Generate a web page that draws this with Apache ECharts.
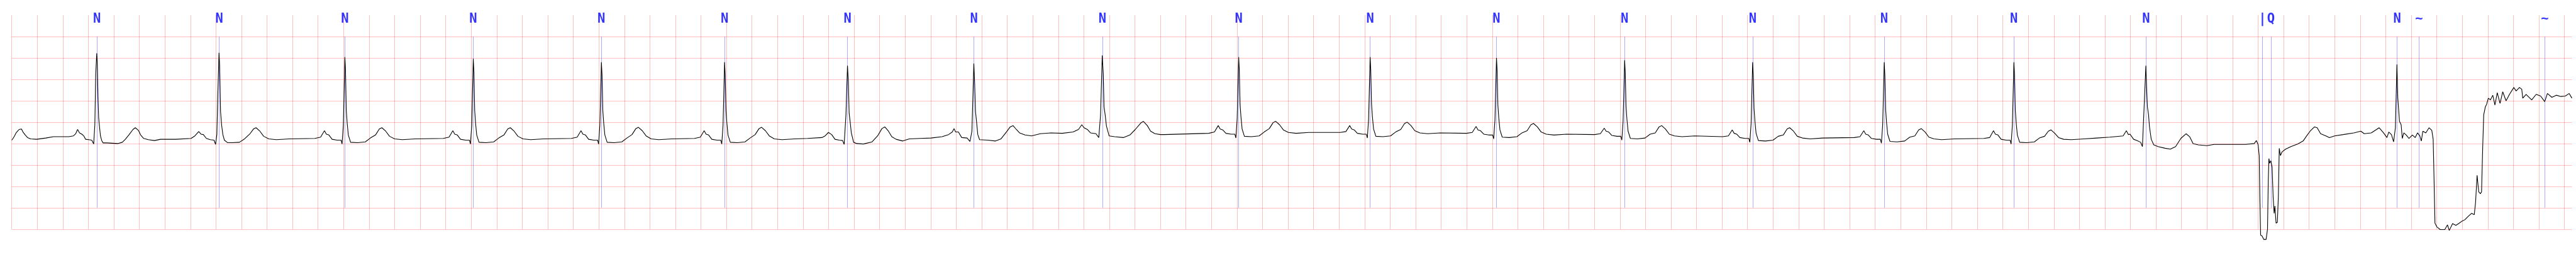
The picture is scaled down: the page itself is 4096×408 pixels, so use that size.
<!DOCTYPE html>
<html><head><meta charset="utf-8">
<script src="https://cdn.jsdelivr.net/npm/echarts@6/dist/echarts.min.js"></script>
<style>html,body{margin:0;padding:0;background:#fff;overflow:hidden}#c{width:4096px;height:408px}</style>
</head><body><div id="c"></div>
<script>
// Annotation times (s) and symbols
const annTimes = [0.668,1.626,2.610,3.616,4.620,5.585,6.549,7.539,8.545,9.613,10.643,11.633,12.637,13.640,14.671,15.687,16.723,17.634,17.701,18.690,18.861,19.847];
const annSymbols = ['N','N','N','N','N','N','N','N','N','N','N','N','N','N','N','N','N','|','Q','N','~','~'];
// grid specification
const majorX = 0.2, majorY = 0.5;
const xEnd = 20.06;
const gridYLow = -2.0, gridYHigh = 2.5, vLineTop = 3.0, annLow = -1.5, annHigh = 2.5, labelY = 2.909;

// ECG (time s, mV)
const ecgSegA = [[0.000,0.08],[0.010,0.12],[0.022,0.18],[0.034,0.25],[0.046,0.29],[0.058,0.33],[0.076,0.34],[0.088,0.27],[0.106,0.20],[0.124,0.14],[0.148,0.11],[0.195,0.10],[0.267,0.13],[0.327,0.16],[0.387,0.16],[0.447,0.16],[0.483,0.18],[0.501,0.23],[0.516,0.33],[0.531,0.25],[0.549,0.22],[0.564,0.18],[0.579,0.10],[0.603,0.09],[0.627,0.08],[0.642,-0.01],[0.651,0.44],[0.658,1.63],[0.666,2.11],[0.670,1.90],[0.676,1.06],[0.681,0.60],[0.687,0.41],[0.695,0.18],[0.705,0.07],[0.716,0.015],[0.746,0.015],[0.830,0.0],[0.866,0.03],[0.890,0.10],[0.920,0.21],[0.950,0.33],[0.968,0.37],[0.992,0.31],[1.010,0.20],[1.034,0.12],[1.070,0.09],[1.118,0.07],[1.166,0.10],[1.286,0.10],[1.405,0.12],[1.435,0.18],[1.465,0.28],[1.483,0.22],[1.501,0.21],[1.525,0.12],[1.555,0.09],[1.585,0.08],[1.597,-0.02],[1.607,0.21],[1.615,1.2],[1.624,2.12],[1.629,1.82],[1.636,0.75],[1.644,0.44],[1.654,0.21],[1.666,0.08],[1.692,0.02]];
const ecgSegA2 = [[1.724,0.02],[1.784,0.03],[1.824,0.11],[1.864,0.22],[1.894,0.34],[1.914,0.37],[1.944,0.29],[1.974,0.17],[2.014,0.11],[2.074,0.09],[2.174,0.11],
[2.375,0.12],[2.420,0.15],[2.450,0.30],[2.465,0.22],[2.485,0.20],[2.510,0.10],[2.550,0.08],[2.580,0.08],[2.588,-0.01],[2.598,0.43],[2.610,2.02],[2.615,1.72],[2.621,0.78],[2.628,0.48],[2.637,0.20],[2.655,0.03],[2.710,0.02],[2.770,0.04],[2.810,0.13],[2.850,0.20],[2.880,0.34],[2.900,0.37],[2.930,0.29],[2.960,0.17],[3.000,0.11],[3.060,0.09],[3.160,0.11],
[3.381,0.12],[3.426,0.15],[3.456,0.30],[3.471,0.22],[3.491,0.20],[3.516,0.10],[3.556,0.08],[3.586,0.08],[3.594,-0.01],[3.604,0.43],[3.616,1.98],[3.621,1.68],[3.627,0.78],[3.634,0.48],[3.643,0.20],[3.661,0.03],[3.716,0.02],[3.776,0.04],[3.816,0.13],[3.856,0.20],[3.886,0.34],[3.906,0.37],[3.936,0.29],[3.966,0.17],[4.006,0.11],[4.066,0.09],[4.166,0.11],
[4.385,0.12],[4.430,0.15],[4.460,0.30],[4.475,0.22],[4.495,0.20],[4.520,0.10],[4.560,0.08],[4.590,0.08],[4.598,-0.01],[4.608,0.43],[4.620,1.90],[4.625,1.60],[4.631,0.78],[4.638,0.48],[4.647,0.20],[4.665,0.03],[4.720,0.02],[4.780,0.04],[4.820,0.13],[4.860,0.21],[4.890,0.35],[4.910,0.38],[4.940,0.30],[4.970,0.18],[5.010,0.11],[5.070,0.09],[5.170,0.11],
[5.350,0.12],[5.395,0.15],[5.425,0.30],[5.440,0.22],[5.460,0.20],[5.485,0.10],[5.525,0.08],[5.555,0.08],[5.563,-0.01],[5.573,0.43],[5.585,1.90],[5.590,1.60],[5.596,0.78],[5.603,0.48],[5.612,0.20],[5.630,0.03],[5.685,0.02],[5.745,0.04],[5.785,0.13],[5.825,0.21],[5.855,0.35],[5.875,0.38],[5.905,0.30],[5.935,0.18],[5.975,0.11],[6.035,0.09],[6.135,0.11],[6.235,0.12]];
const ecgSegB = [[6.347,0.14],[6.373,0.18],[6.399,0.26],[6.424,0.21],[6.450,0.10],[6.484,0.08],[6.510,0.07],[6.522,-0.02],[6.536,0.67],[6.548,1.82],[6.555,1.44],[6.561,0.71],[6.570,0.48],[6.578,0.25],[6.596,0.03],[6.621,0.0],[6.673,-0.01],[6.741,0.04],[6.784,0.18],[6.818,0.35],[6.840,0.39],[6.869,0.29],[6.895,0.16],[6.929,0.10],[6.981,0.06],[7.032,0.11],[7.117,0.12],[7.203,0.13],[7.289,0.16],[7.340,0.21],[7.369,0.27],[7.383,0.35],[7.395,0.27],[7.417,0.27],[7.443,0.14],[7.485,0.13],[7.508,0.05],[7.523,0.29],[7.538,1.87],[7.544,1.44],[7.551,0.75],[7.559,0.52],[7.569,0.21],[7.583,0.09],[7.648,0.08],[7.708,0.06],[7.751,0.11],[7.793,0.27],[7.823,0.39],[7.845,0.42],[7.871,0.33],[7.896,0.25],[7.939,0.20],[7.990,0.18],[8.059,0.23],[8.144,0.25],[8.230,0.24],[8.316,0.27],[8.358,0.33],[8.384,0.44],[8.401,0.37],[8.427,0.33],[8.452,0.25],[8.495,0.23],[8.517,0.14],[8.531,0.67],[8.544,2.06],[8.552,1.63],[8.558,0.86],[8.567,0.67],[8.577,0.41],[8.598,0.18],[8.641,0.16],[8.709,0.14],[8.761,0.20],[8.803,0.33],[8.846,0.48],[8.866,0.52],[8.897,0.42],[8.923,0.29],[8.957,0.23],[9.000,0.21],[9.031,0.21]];
const ecgSegB2 = [[9.378,0.24],[9.423,0.27],[9.453,0.42],[9.468,0.34],[9.488,0.32],[9.513,0.24],[9.553,0.22],[9.583,0.22],[9.591,0.13],[9.601,0.57],[9.613,2.02],[9.618,1.72],[9.624,0.92],[9.631,0.62],[9.640,0.34],[9.658,0.17],[9.713,0.16],[9.773,0.18],[9.813,0.27],[9.853,0.35],[9.883,0.49],[9.903,0.52],[9.933,0.44],[9.963,0.32],[10.003,0.26],[10.063,0.24],[10.163,0.26],
[10.408,0.26],[10.453,0.28],[10.483,0.42],[10.498,0.34],[10.518,0.32],[10.543,0.24],[10.583,0.22],[10.613,0.22],[10.621,0.13],[10.631,0.57],[10.643,2.02],[10.648,1.72],[10.654,0.92],[10.661,0.62],[10.670,0.34],[10.688,0.17],[10.743,0.16],[10.803,0.18],[10.843,0.27],[10.883,0.33],[10.913,0.47],[10.933,0.50],[10.963,0.42],[10.993,0.30],[11.033,0.25],[11.093,0.23],[11.193,0.25],
[11.398,0.24],[11.443,0.26],[11.473,0.40],[11.488,0.32],[11.508,0.30],[11.533,0.22],[11.573,0.20],[11.603,0.20],[11.611,0.11],[11.621,0.55],[11.633,2.00],[11.638,1.70],[11.644,0.90],[11.651,0.60],[11.660,0.32],[11.678,0.15],[11.733,0.14],[11.793,0.16],[11.833,0.25],[11.873,0.30],[11.903,0.44],[11.923,0.47],[11.953,0.39],[11.983,0.27],[12.023,0.22],[12.083,0.20],[12.183,0.22],
[12.402,0.21],[12.447,0.23],[12.477,0.36],[12.492,0.29],[12.512,0.27],[12.537,0.19],[12.577,0.17],[12.607,0.17],[12.615,0.08],[12.625,0.52],[12.637,1.95],[12.642,1.65],[12.648,0.87],[12.655,0.57],[12.664,0.29],[12.682,0.12],[12.737,0.11],[12.797,0.13],[12.837,0.22],[12.877,0.25],[12.907,0.39],[12.927,0.42],[12.957,0.34],[12.987,0.22],[13.027,0.18],[13.087,0.16],[13.187,0.18],
[13.405,0.16],[13.450,0.18],[13.480,0.32],[13.495,0.24],[13.515,0.22],[13.540,0.14],[13.580,0.12],[13.610,0.12],[13.618,0.03],[13.628,0.47],[13.640,1.90],[13.645,1.60],[13.651,0.82],[13.658,0.52],[13.667,0.24],[13.685,0.07],[13.740,0.06],[13.800,0.08],[13.840,0.17],[13.880,0.20],[13.910,0.34],[13.930,0.37],[13.960,0.29],[13.990,0.17],[14.030,0.13],[14.090,0.11],[14.190,0.13],
[14.436,0.14],[14.481,0.16],[14.511,0.30],[14.526,0.22],[14.546,0.20],[14.571,0.12],[14.611,0.10],[14.641,0.10],[14.649,0.01],[14.659,0.45],[14.671,1.90],[14.676,1.60],[14.682,0.80],[14.689,0.50],[14.698,0.22],[14.716,0.05],[14.771,0.04],[14.831,0.06],[14.871,0.15],[14.911,0.18],[14.941,0.32],[14.961,0.35],[14.991,0.27],[15.021,0.15],[15.061,0.11],[15.121,0.09],[15.221,0.11],
[15.452,0.12],[15.497,0.14],[15.527,0.30],[15.542,0.22],[15.562,0.20],[15.587,0.10],[15.627,0.08],[15.657,0.08],[15.665,-0.01],[15.675,0.43],[15.687,1.90],[15.692,1.60],[15.698,0.78],[15.705,0.48],[15.714,0.20],[15.732,0.03],[15.787,0.02],[15.847,0.04],[15.887,0.13],[15.927,0.17],[15.957,0.29],[15.977,0.32],[16.007,0.24],[16.037,0.14],[16.077,0.10],[16.137,0.09],[16.237,0.11],[16.337,0.13],[16.437,0.15]];
const ecgSegC = [[16.543,0.18],[16.568,0.30],[16.584,0.21],[16.597,0.22],[16.625,0.10],[16.653,0.07],[16.680,0.03],[16.694,-0.07],[16.721,1.82],[16.726,1.36],[16.733,0.86],[16.742,0.67],[16.749,0.40],[16.763,0.10],[16.783,-0.03],[16.817,-0.07],[16.872,-0.11],[16.913,-0.13],[16.954,-0.07],[16.995,0.12],[17.036,0.23],[17.064,0.16],[17.091,0.0],[17.132,-0.03],[17.200,-0.05],[17.255,-0.02],[17.364,-0.02],[17.501,-0.02],[17.570,0.0],[17.587,0.07],[17.600,-0.02],[17.609,-0.28],[17.614,-1.24],[17.620,-2.14],[17.632,-2.16],[17.645,-2.24],[17.663,-2.24],[17.674,-2.0],[17.680,-0.86],[17.685,-0.35],[17.691,-0.46],[17.700,-0.40],[17.710,-0.55],[17.718,-1.24],[17.726,-1.63],[17.732,-1.46],[17.741,-1.86],[17.751,-1.84],[17.759,-1.24],[17.766,-0.11],[17.775,-0.28],[17.789,-0.19],[17.816,-0.13],[17.857,-0.07],[17.912,-0.01],[17.953,0.06],[17.981,0.18],[18.008,0.29],[18.042,0.39],[18.063,0.37],[18.090,0.23],[18.131,0.18],[18.159,0.14],[18.200,0.18],[18.268,0.21],[18.351,0.25],[18.405,0.29],[18.432,0.23],[18.487,0.25],[18.549,0.37],[18.583,0.25],[18.610,0.14],[18.624,0.27],[18.645,0.21],[18.662,0.04],[18.676,0.37],[18.688,1.85],[18.695,1.06],[18.708,0.52],[18.721,0.44],[18.730,0.12],[18.742,0.25],[18.761,0.20],[18.782,0.12],[18.809,0.20],[18.831,0.14],[18.849,0.25],[18.867,0.18],[18.879,0.06],[18.891,0.29],[18.914,0.25],[18.940,0.37],[18.961,0.31],[18.972,0.10],[18.979,-0.86],[18.986,-1.86],[19.002,-1.95],[19.028,-2.01],[19.063,-2.01],[19.084,-1.90],[19.098,-2.03],[19.124,-1.87],[19.150,-1.91],[19.171,-1.87],[19.194,-1.82],[19.220,-1.78],[19.247,-1.70],[19.273,-1.63],[19.294,-1.66],[19.304,-1.38],[19.316,-0.74],[19.329,-1.13],[19.342,-1.17],[19.351,-1.13],[19.360,-0.09],[19.368,0.67],[19.381,0.86],[19.391,0.92],[19.404,1.06],[19.421,1.02],[19.439,1.13],[19.456,0.90],[19.474,1.19],[19.496,0.94],[19.517,1.21],[19.543,1.00],[19.570,1.15],[19.604,1.31],[19.622,1.23],[19.648,1.31],[19.666,1.27],[19.674,1.06],[19.700,1.15],[19.744,1.02],[19.779,1.15],[19.814,1.11],[19.846,0.98],[19.867,1.17],[19.902,1.08],[19.937,1.13],[19.972,1.10],[20.007,1.11],[20.038,1.17],[20.059,1.06]];

const ecgData = ecgSegA.concat(ecgSegA2, ecgSegB, ecgSegB2, ecgSegC);

const vLines = [], hLines = [], aLines = [];
for (let i = 0; i * majorX <= xEnd + 1e-9; i++) { const x = +(i * majorX).toFixed(4); vLines.push({coords: [[x, gridYLow], [x, vLineTop]]}); }
for (let y = gridYLow; y <= gridYHigh + 1e-9; y += majorY) hLines.push({coords: [[0, y], [xEnd, y]]});
annTimes.forEach(t => aLines.push({coords: [[t, annLow], [t, annHigh]]}));
const labelData = annTimes.map((t, i) => [t, labelY, annSymbols[i]]);

const chart = echarts.init(document.getElementById('c'), null, {renderer: 'canvas'});
chart.setOption({
  animation: false,
  backgroundColor: '#ffffff',
  grid: {left: 18.68, right: 6.3, top: 0, bottom: 0},
  xAxis: {type: 'value', min: 0, max: xEnd, show: false},
  yAxis: {type: 'value', min: -2.65, max: 3.354, show: false},
  series: [
    {type: 'lines', coordinateSystem: 'cartesian2d', data: vLines, silent: true, z: 1,
     lineStyle: {color: 'rgba(255,0,0,0.25)', width: 1, opacity: 1}},
    {type: 'lines', coordinateSystem: 'cartesian2d', data: hLines, silent: true, z: 1,
     lineStyle: {color: 'rgba(255,0,0,0.25)', width: 1, opacity: 1}},
    {type: 'lines', coordinateSystem: 'cartesian2d', data: aLines, silent: true, z: 2,
     lineStyle: {color: 'rgba(0,0,255,0.55)', width: 0.6, opacity: 1}},
    {type: 'line', data: ecgData, showSymbol: false, symbol: 'none', z: 5, silent: true,
     lineStyle: {color: '#000000', width: 1.1}, sampling: null},
    {type: 'scatter', data: labelData, symbolSize: 0, z: 6, silent: true,
     label: {show: true, position: 'inside', formatter: p => p.data[2], color: '#0000ff',
             fontFamily: 'DejaVu Sans Mono', fontWeight: 'bold', fontSize: 20.5}}
  ]
});
</script></body></html>
